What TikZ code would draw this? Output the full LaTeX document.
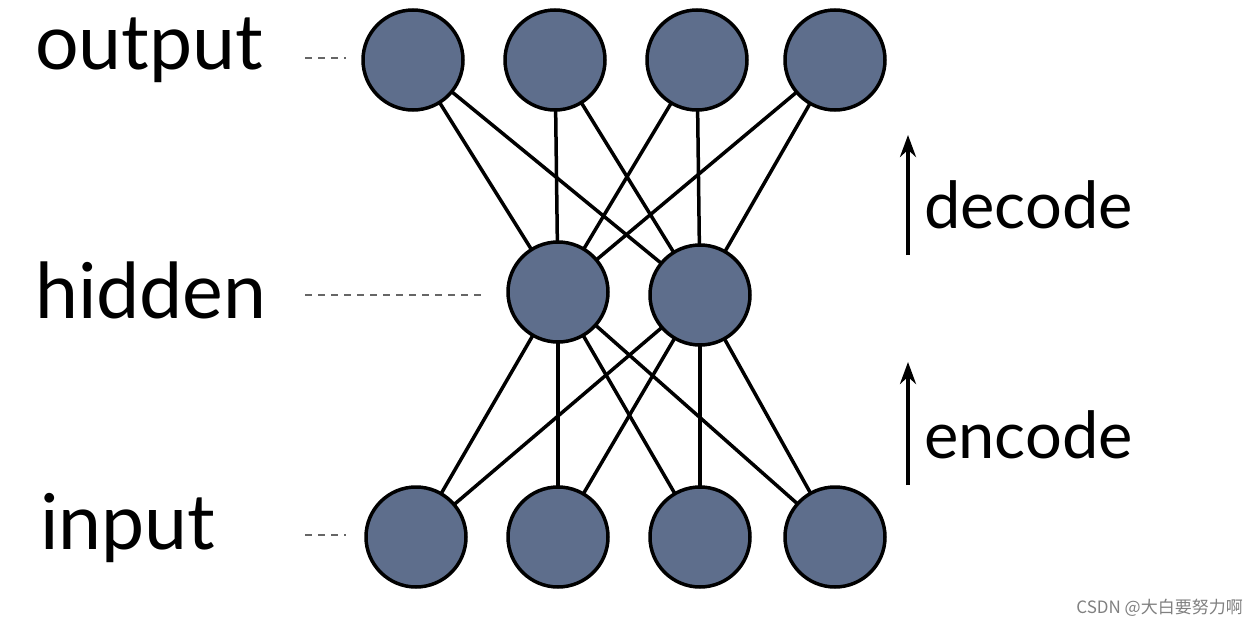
\documentclass[tikz,border=0pt]{standalone}
\usepackage{fontspec}
\setmainfont{Lato}
\newfontfamily\cjk{Noto Sans CJK SC}
\usetikzlibrary{backgrounds,arrows.meta}
\definecolor{nodefill}{HTML}{5E6E8C}
\begin{document}
\begin{tikzpicture}[x=1pt,y=-1pt,
  neuron/.style={circle,draw=black,line width=3.5pt,fill=nodefill,minimum size=100pt,inner sep=0pt},
  conn/.style={line width=3.5pt},
  guide/.style={gray!80!black,line width=2pt,dash pattern=on 7pt off 6pt},
  lab/.style={font=\fontsize{77}{77}\selectfont,anchor=west,inner sep=0pt},
  arr/.style={line width=4pt,-{Stealth[length=22pt,width=16pt]}}]
\useasboundingbox (0,0) rectangle (1256,632);
\foreach \x [count=\i] in {413,555,697,835} \node[neuron] (o\i) at (\x,60) {};
\node[neuron] (h1) at (558,292) {};
\node[neuron] (h2) at (700,295) {};
\foreach \x [count=\i] in {416,558,700,835} \node[neuron] (i\i) at (\x,537) {};
\begin{scope}[on background layer]
\foreach \h in {h1,h2}\foreach \k in {1,...,4}{
  \draw[conn] (\h.center) -- (o\k.center);
  \draw[conn] (\h.center) -- (i\k.center);}
\end{scope}
\node[lab] (lo) at (35,50) {output};
\node[lab] (lh) at (35,290) {hidden};
\node[lab] (li) at (40,528) {input};
\coordinate (go) at (305,58); \coordinate (go2) at (346,58); \draw[guide] (go) -- (go2);
\coordinate (gh) at (305,295); \coordinate (gh2) at (482,295); \draw[guide] (gh) -- (gh2);
\coordinate (gi) at (305,535); \coordinate (gi2) at (346,535); \draw[guide] (gi) -- (gi2);
\coordinate (d0) at (908,255); \coordinate (d1) at (908,135); \draw[arr] (d0) -- (d1);
\node[lab,font=\fontsize{65}{65}\selectfont] (dec) at (924,205) {decode};
\coordinate (e0) at (908,485); \coordinate (e1) at (908,362); \draw[arr] (e0) -- (e1);
\node[lab,font=\fontsize{65}{65}\selectfont] (enc) at (924,435) {encode};
\node[anchor=east,text=gray,font=\cjk\fontsize{17}{17}\selectfont,inner sep=0pt] (wm) at (1243,608) {CSDN @大白要努力啊};
\end{tikzpicture}
\end{document}
